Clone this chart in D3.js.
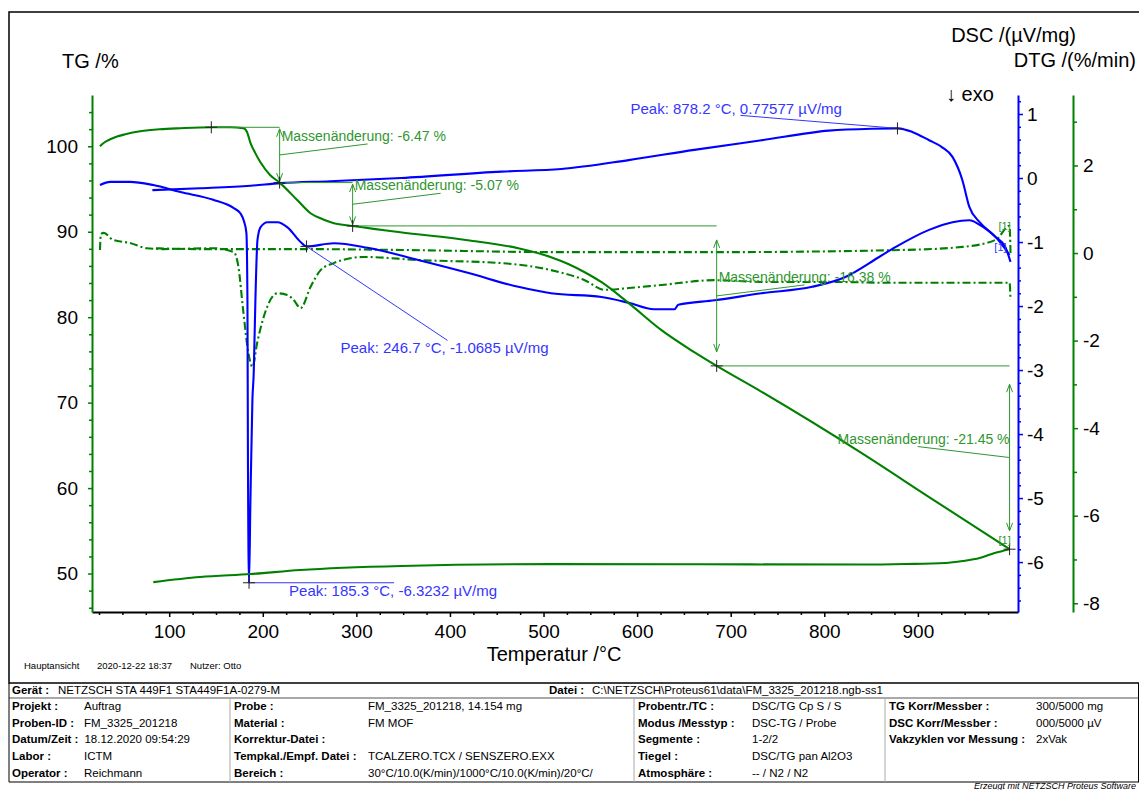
<!DOCTYPE html><meta charset="utf-8">
<title>STA 449F1 - FM_3325_201218</title>
<script src="https://cdn.jsdelivr.net/npm/d3@7"></script>
<style>
  html,body{margin:0;background:#fff}
  svg{display:block;font-family:"Liberation Sans",Arial,sans-serif}
  .ax text{font-family:"Liberation Sans",Arial,sans-serif;font-size:19px;fill:#000}
  .tbl text{font-size:11.5px;fill:#000}
  .tbl .b{font-weight:bold}
</style>
<svg width="1139" height="790"></svg>
<script>
/* ---------- data ---------- */
// TG heating  [°C, %]
const tgHeat = [[26,100.0],[31,100.47],[37,100.82],[45,101.17],[53,101.4],[69,101.75],[90,101.99],[112,102.11],
  [145,102.22],[165,102.22],[179,102.12],[183,101.7],[187,100.35],[192,99.2],[197.5,98.13],[208,96.61],[218,95.75],
  [237,93.68],[251,92.16],[264,91.46],[276,91.0],[296,90.68],[347,89.94],[419,89.01],[473,88.07],[508,87.02],
  [527,86.2],[544,85.26],[562,84.09],[591,81.64],[626,78.48],[661,75.91],[685,74.3],[730,71.46],[840,64.09],
  [912,58.95],[998,52.85]];
// TG cooling
const tgCool = [[998,52.85],[982,52.4],[966,51.81],[948,51.46],[929,51.23],[887,51.11],[840,51.05],[669,51.08],
  [508,51.1],[348,50.88],[240,50.41],[187,49.94],[133,49.59],[83,49.0]];
// DSC heating  [°C, µV/mg]
const dscHeat = [[26,-0.11],[37,-0.06],[58,-0.06],[83,-0.11],[112,-0.22],[147,-0.34],[169,-0.47],[176,-0.55],
  [180,-0.68],[182.5,-0.86],[183.6,-1.91],[184.1,-4.25],[185.3,-6.3232],[186.8,-5.03],[188.9,-3.47],[190.3,-3.05],
  [192.1,-1.91],[194.3,-0.97],[197.5,-0.77],[205,-0.69],[215.7,-0.69],[226.4,-0.77],[240.4,-1.0],[246.7,-1.0685],
  [276,-1.02],[312,-1.09],[366,-1.28],[419,-1.48],[473,-1.7],[508,-1.8],[562,-1.86],[591,-1.95],[618,-2.05],
  [640,-2.05],[644,-1.98],[683,-1.91],[733,-1.8],[787,-1.7],[822,-1.55],[859,-1.23],[876,-1.08],[912,-0.81],
  [937,-0.69],[955,-0.66],[966,-0.73],[983,-0.92],[993.5,-1.08],[999,-1.31]];
// DSC cooling
const dscCool = [[998,-1.2],[983,-0.92],[966,-0.69],[955,-0.45],[947.5,-0.03],[937,0.33],[926,0.48],[912,0.59],
  [894,0.72],[878.2,0.77577],[851,0.77],[805,0.74],[733,0.59],[661,0.44],[591,0.28],[519,0.14],[455,0.1],
  [348,0.0],[272,-0.05],[219,-0.08],[187,-0.12],[133,-0.16],[82,-0.19]];
// DTG heating  [°C, %/min]
const dtgHeat = [[26,0.07],[27,0.43],[30,0.46],[40,0.3],[58,0.23],[76,0.11],[94,0.09],[147,0.11],[169,0.02],
  [174,-0.32],[179,-1.3],[184.6,-2.28],[189,-2.6],[194,-2.05],[200,-1.53],[204.7,-1.23],[215.4,-0.92],[226.1,-0.96],
  [232.9,-1.07],[240.4,-1.26],[251.1,-0.77],[261.8,-0.39],[275.7,-0.23],[308,-0.09],[366,-0.16],[455,-0.23],
  [508,-0.39],[544,-0.62],[565,-0.84],[591,-0.8],[626,-0.73],[683,-0.62],[733,-0.66],[805,-0.66],[873,-0.68],
  [998,-0.68],[999,-1.07]];
// DTG cooling
const dtgCool = [[999,0.0],[998,0.62],[983,0.3],[947.5,0.14],[884,0.07],[683,0.02],[519,0.02],[348,0.07],
  [240,0.09],[133,0.09],[85,0.11]];

// mass-change evaluation points (TG heating)
const massT = [145, 218, 296, 685, 998];
const massV = [102.22, 95.75, 90.68, 74.3, 52.85];
const massLabels = ['-6.47 %', '-5.07 %', '-16.38 %', '-21.45 %'];
// DSC peaks
const peakT = [185.3, 246.7, 878.2];
const peakV = [-6.3232, -1.0685, 0.77577];

// axis ticks
const xMajor = [100,200,300,400,500,600,700,800,900];
const tgMajor = [50,60,70,80,90,100];
const dscMajor = [-6,-5,-4,-3,-2,-1,0,1];
const dtgMajor = [-8,-6,-4,-2,0,2];

/* ---------- scales ---------- */
const GREEN = '#008000', BLUE = '#0000ff', AGREEN = '#2f962f', ABLUE = '#3535ff';
const svg = d3.select('svg');
const x = d3.scaleLinear().domain([17.5, 1007]).range([92, 1018]);
const yTG = d3.scaleLinear().domain([45.5, 106]).range([612, 95]);
const yDSC = d3.scaleLinear().domain([-6.78, 1.297]).range([612, 95]);
const yDTG = d3.scaleLinear().domain([-8.2, 3.61]).range([612, 95]);

// frame
svg.append('rect').attr('x',9).attr('y',12).attr('width',1150).attr('height',671)
   .attr('fill','none').attr('stroke','#000').attr('stroke-width',1.5);

/* ---------- axes ---------- */
function axis(gen, tx, ty, color, minor){
  const g = svg.append('g').attr('class','ax').attr('transform',`translate(${tx},${ty})`).call(gen);
  g.selectAll('.tick line').attr('stroke', color).attr('stroke-width', 1.5);
  if (minor) g.select('.domain').remove();
  else g.select('.domain').attr('stroke', color).attr('stroke-width', 2);
  return g;
}
const fmt = d => String(d);
const minorX = d3.range(25, 1001, 25).filter(v => v % 100);
axis(d3.axisBottom(x).tickValues(minorX).tickSize(3).tickFormat(''), 0, 612, '#000', true);
axis(d3.axisBottom(x).tickValues(xMajor).tickSize(5).tickPadding(8).tickSizeOuter(0).tickFormat(fmt), 0, 612, '#000');

axis(d3.axisLeft(yTG).tickValues(d3.range(46, 106, 2).filter(v => v % 10)).tickSize(3).tickFormat(''), 92, 0, GREEN, true);
axis(d3.axisLeft(yTG).tickValues(tgMajor).tickSize(4).tickPadding(10).tickSizeOuter(0).tickFormat(fmt), 92, 0, GREEN);

axis(d3.axisRight(yDSC).tickValues(d3.range(-33, 7).map(v => v / 5).filter(v => v % 1)).tickSize(3).tickFormat(''), 1018, 0, BLUE, true);
axis(d3.axisRight(yDSC).tickValues(dscMajor).tickSize(5).tickPadding(4).tickSizeOuter(0).tickFormat(fmt), 1018, 0, BLUE);

axis(d3.axisRight(yDTG).tickValues([-7,-5,-3,-1,1,3]).tickSize(4).tickFormat(''), 1073, 0, GREEN, true);
axis(d3.axisRight(yDTG).tickValues(dtgMajor).tickSize(5).tickPadding(5).tickSizeOuter(0).tickFormat(fmt), 1073, 0, GREEN);

// titles
const title = (t, px, py, anchor) => svg.append('text').attr('x',px).attr('y',py)
  .attr('text-anchor',anchor||'start').attr('font-size',20).text(t);
title('TG /%', 62, 68);
title('DSC /(µV/mg)', 1076, 42, 'end');
title('DTG /(%/min)', 1136, 67, 'end');
title('↓ exo', 946, 101);
title('Temperatur /°C', 554, 661, 'middle');

/* ---------- curves ---------- */
const plot = svg.append('g');
const lineOf = ys => d3.line().curve(d3.curveMonotoneX).x(d => x(d[0])).y(d => ys(d[1]));
function curve(data, ys, color, dash){
  plot.append('path').datum(data).attr('d', lineOf(ys)).attr('fill','none')
      .attr('stroke', color).attr('stroke-width', 2.1).attr('stroke-linejoin','round')
      .attr('stroke-dasharray', dash || null);
}
curve(dtgCool, yDTG, GREEN, '8,3,2,3');
curve(dtgHeat, yDTG, GREEN, '8,3,2,3');
curve(dscCool, yDSC, BLUE);
curve(dscHeat, yDSC, BLUE);
curve(tgCool, yTG, GREEN);
curve(tgHeat, yTG, GREEN);

/* ---------- annotations ---------- */
const ann = svg.append('g');
const plus = (px, py) => ann.append('path').attr('d',`M${px-6},${py}H${px+6}M${px},${py-6}V${py+6}`)
  .attr('stroke','#222').attr('stroke-width',1);
const seg = (x1,y1,x2,y2,c) => ann.append('line').attr('x1',x1).attr('y1',y1).attr('x2',x2).attr('y2',y2)
  .attr('stroke',c).attr('stroke-width',1);

massLabels.forEach((lab, i) => {
  const xa = x(massT[i]), xb = x(massT[i+1]);
  const top = yTG(massV[i]), bot = yTG(massV[i+1]);
  seg(xa, top, xb, top, AGREEN);
  const len = bot - top, inset = len > 100 ? len * 0.1 : 1.5;
  const t0 = top + inset, b0 = bot - inset;
  seg(xb, t0, xb, b0, AGREEN);
  ann.append('path').attr('d',`M${xb-3},${t0+8}L${xb},${t0}L${xb+3},${t0+8}M${xb-3},${b0-8}L${xb},${b0}L${xb+3},${b0-8}`)
     .attr('fill','none').attr('stroke',AGREEN).attr('stroke-width',1);
  const mid = (top + bot) / 2, last = i === massLabels.length - 1;
  seg(xb, mid, last ? xb - 92 : xb + 88, mid - 11, AGREEN);
  ann.append('text').attr('x', last ? xb : xb + 2).attr('y', mid - 14)
     .attr('text-anchor', last ? 'end' : 'start').attr('font-size',14).attr('fill',AGREEN)
     .text('Massenänderung: ' + lab);
});
massT.forEach((t, i) => plus(x(t), yTG(massV[i])));

// peak labels: text offset and leader end relative to the marker
const peakOff = [[40, 13, 145, 0], [34, 107, 141, 94], [-267, -14, -157, -13]];
peakT.forEach((t, i) => {
  const px = x(t), py = yDSC(peakV[i]), o = peakOff[i];
  seg(px, py, px + o[2], py + o[3], ABLUE);
  plus(px, py);
  ann.append('text').attr('x', px + o[0]).attr('y', py + o[1]).attr('font-size',15).attr('fill',ABLUE)
     .text(`Peak: ${t.toFixed(1)} °C, ${peakV[i]} µV/mg`);
});

// curve end tags
const tag = (t, v, ys, c) => ann.append('text').attr('x', x(t) - 11).attr('y', ys(v) + 4)
  .attr('font-size',11).attr('fill',c).text('[1]');
tag(dtgCool[1][0], dtgCool[1][1], yDTG, AGREEN);
tag(dscHeat[dscHeat.length-2][0], dscHeat[dscHeat.length-2][1], yDSC, ABLUE);
tag(tgHeat[tgHeat.length-1][0], tgHeat[tgHeat.length-1][1] + 1.1, yTG, AGREEN);

svg.append('text').attr('x',24).attr('y',669).attr('font-size',9.5)
   .text('Hauptansicht').append('tspan').attr('x',97).text('2020-12-22 18:37')
   .select(function(){return this.parentNode;}).append('tspan').attr('x',190).text('Nutzer: Otto');

/* ---------- info table ---------- */
const colA = [['Projekt :','Auftrag'],['Proben-ID :','FM_3325_201218'],['Datum/Zeit :','18.12.2020 09:54:29'],['Labor :','ICTM'],['Operator :','Reichmann']];
const colB = [['Probe :','FM_3325_201218, 14.154 mg'],['Material :','FM MOF'],['Korrektur-Datei :',''],['Tempkal./Empf. Datei :','TCALZERO.TCX / SENSZERO.EXX'],['Bereich :','30°C/10.0(K/min)/1000°C/10.0(K/min)/20°C/']];
const colC = [['Probentr./TC :','DSC/TG Cp S / S'],['Modus /Messtyp :','DSC-TG / Probe'],['Segmente :','1-2/2'],['Tiegel :','DSC/TG pan Al2O3'],['Atmosphäre :','-- / N2 / N2']];
const colD = [['TG Korr/Messber :','300/5000 mg'],['DSC Korr/Messber :','000/5000 µV'],['Vakzyklen vor Messung :','2xVak']];

const tbl = svg.append('g').attr('class','tbl');
const hl = (y, c) => tbl.append('line').attr('x1',9).attr('x2',1139).attr('y1',y).attr('y2',y).attr('stroke',c).attr('stroke-width',1.2);
const vl = (xx, y1, y2, c) => tbl.append('line').attr('x1',xx).attr('x2',xx).attr('y1',y1).attr('y2',y2).attr('stroke',c);
hl(698, '#555'); hl(782, '#000');
vl(9, 683, 782, '#000'); vl(1138.5, 683, 782, '#000');
[230, 634, 885].forEach(v => vl(v, 698, 782, '#aaa'));

const cell = (bx, vx, y, lab, val) => {
  tbl.append('text').attr('class','b').attr('x',bx).attr('y',y).text(lab);
  tbl.append('text').attr('x',vx).attr('y',y).text(val);
};
cell(12, 58, 694, 'Gerät :', 'NETZSCH STA 449F1 STA449F1A-0279-M');
cell(549, 592, 694, 'Datei :', 'C:\\NETZSCH\\Proteus61\\data\\FM_3325_201218.ngb-ss1');
const rowY = [710, 726.5, 743, 760, 777];
const place = (col, bx, vx) => col.forEach((r, i) => {
  const w = tbl.append('text').attr('class','b').attr('x',bx).attr('y',rowY[i]).text(r[0]);
  const end = bx + w.node().getComputedTextLength() + 6;
  tbl.append('text').attr('x', Math.max(vx, end)).attr('y',rowY[i]).text(r[1]);
});
place(colA, 12, 84);
place(colB, 234, 368);
place(colC, 638, 752);
place(colD, 889, 1036);

svg.append('text').attr('x',1136).attr('y',789).attr('text-anchor','end').attr('font-size',9)
   .attr('font-style','italic').text('Erzeugt mit NETZSCH Proteus Software');
</script>
